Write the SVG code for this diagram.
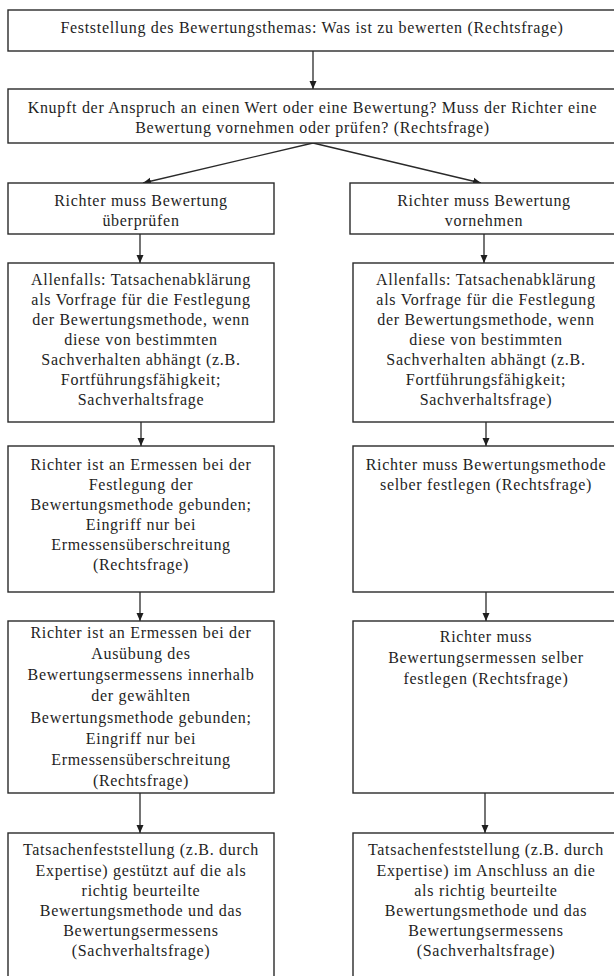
<svg xmlns="http://www.w3.org/2000/svg" width="614" height="976" viewBox="0 0 614 976">
<style>
.box{fill:#fff;stroke:#2a2a2a;stroke-width:1.4}
.t{font-family:'Liberation Serif','Times New Roman',serif;font-size:16px;fill:#1e1e1e;text-anchor:middle;letter-spacing:0.7px}
.c{stroke:#2a2a2a;stroke-width:1.3;fill:none;marker-end:url(#ah)}
</style>
<defs>
<marker id="ah" markerUnits="userSpaceOnUse" markerWidth="8" markerHeight="8" refX="8" refY="4" orient="auto">
<path d="M0,0.5 L8,4 L0,7.5 Z" fill="#1e1e1e"/>
</marker>
</defs>
<rect width="614" height="976" fill="#fff"/>
<g id="connectors">
<line class="c" x1="313" y1="51" x2="313" y2="89"/>
<line class="c" x1="313" y1="143" x2="143" y2="183"/>
<line class="c" x1="313" y1="143" x2="481" y2="183"/>
<line class="c" x1="140" y1="234" x2="140" y2="263"/>
<line class="c" x1="484" y1="234" x2="484" y2="263"/>
<line class="c" x1="141" y1="422" x2="141" y2="446"/>
<line class="c" x1="486" y1="422" x2="486" y2="446"/>
<line class="c" x1="140" y1="592" x2="140" y2="621"/>
<line class="c" x1="486" y1="592" x2="486" y2="621"/>
<line class="c" x1="140" y1="793" x2="140" y2="833"/>
<line class="c" x1="485" y1="793" x2="485" y2="833"/>
</g>
<g id="n1">
<rect class="box" x="8" y="10" width="610" height="41"/>
<text class="t" x="312" y="33">Feststellung des Bewertungsthemas: Was ist zu bewerten (Rechtsfrage)</text>
</g>
<g id="n2">
<rect class="box" x="8" y="89" width="610" height="54"/>
<text class="t" x="312.5" y="113">Knupft der Anspruch an einen Wert oder eine Bewertung? Muss der Richter eine</text>
<text class="t" x="312.5" y="133">Bewertung vornehmen oder prüfen? (Rechtsfrage)</text>
</g>
<g id="l1">
<rect class="box" x="8" y="183" width="266" height="51"/>
<text class="t" x="141" y="206">Richter muss Bewertung</text>
<text class="t" x="141" y="226">überprüfen</text>
</g>
<g id="r1">
<rect class="box" x="350" y="183" width="270" height="51"/>
<text class="t" x="484" y="206">Richter muss Bewertung</text>
<text class="t" x="484" y="226">vornehmen</text>
</g>
<g id="l2">
<rect class="box" x="8" y="263" width="266" height="159"/>
<text class="t" x="141" y="285">Allenfalls: Tatsachenabklärung</text>
<text class="t" x="141" y="305">als Vorfrage für die Festlegung</text>
<text class="t" x="141" y="325">der Bewertungsmethode, wenn</text>
<text class="t" x="141" y="345">diese von bestimmten</text>
<text class="t" x="141" y="365">Sachverhalten abhängt (z.B.</text>
<text class="t" x="141" y="385">Fortführungsfähigkeit;</text>
<text class="t" x="141" y="405">Sachverhaltsfrage</text>
</g>
<g id="r2">
<rect class="box" x="353" y="263" width="267" height="159"/>
<text class="t" x="486" y="285">Allenfalls: Tatsachenabklärung</text>
<text class="t" x="486" y="305">als Vorfrage für die Festlegung</text>
<text class="t" x="486" y="325">der Bewertungsmethode, wenn</text>
<text class="t" x="486" y="345">diese von bestimmten</text>
<text class="t" x="486" y="365">Sachverhalten abhängt (z.B.</text>
<text class="t" x="486" y="385">Fortführungsfähigkeit;</text>
<text class="t" x="486" y="405">Sachverhaltsfrage)</text>
</g>
<g id="l3">
<rect class="box" x="8" y="446" width="266" height="146"/>
<text class="t" x="141" y="470">Richter ist an Ermessen bei der</text>
<text class="t" x="141" y="490">Festlegung der</text>
<text class="t" x="141" y="510">Bewertungsmethode gebunden;</text>
<text class="t" x="141" y="530">Eingriff nur bei</text>
<text class="t" x="141" y="550">Ermessensüberschreitung</text>
<text class="t" x="141" y="570">(Rechtsfrage)</text>
</g>
<g id="r3">
<rect class="box" x="353" y="446" width="267" height="146"/>
<text class="t" x="486" y="470">Richter muss Bewertungsmethode</text>
<text class="t" x="486" y="490">selber festlegen (Rechtsfrage)</text>
</g>
<g id="l4">
<rect class="box" x="8" y="621" width="266" height="172"/>
<text class="t" x="141" y="638">Richter ist an Ermessen bei der</text>
<text class="t" x="141" y="659">Ausübung des</text>
<text class="t" x="141" y="680">Bewertungsermessens innerhalb</text>
<text class="t" x="141" y="701">der gewählten</text>
<text class="t" x="141" y="723">Bewertungsmethode gebunden;</text>
<text class="t" x="141" y="744">Eingriff nur bei</text>
<text class="t" x="141" y="765">Ermessensüberschreitung</text>
<text class="t" x="141" y="786">(Rechtsfrage)</text>
</g>
<g id="r4">
<rect class="box" x="353" y="621" width="267" height="172"/>
<text class="t" x="486" y="642">Richter muss</text>
<text class="t" x="486" y="663">Bewertungsermessen selber</text>
<text class="t" x="486" y="684">festlegen (Rechtsfrage)</text>
</g>
<g id="l5">
<rect class="box" x="8" y="833" width="266" height="150"/>
<text class="t" x="141" y="855">Tatsachenfeststellung (z.B. durch</text>
<text class="t" x="141" y="876">Expertise) gestützt auf die als</text>
<text class="t" x="141" y="896">richtig beurteilte</text>
<text class="t" x="141" y="916">Bewertungsmethode und das</text>
<text class="t" x="141" y="936">Bewertungsermessens</text>
<text class="t" x="141" y="956">(Sachverhaltsfrage)</text>
</g>
<g id="r5">
<rect class="box" x="353" y="833" width="267" height="150"/>
<text class="t" x="486" y="855">Tatsachenfeststellung (z.B. durch</text>
<text class="t" x="486" y="876">Expertise) im Anschluss an die</text>
<text class="t" x="486" y="896">als richtig beurteilte</text>
<text class="t" x="486" y="916">Bewertungsmethode und das</text>
<text class="t" x="486" y="936">Bewertungsermessens</text>
<text class="t" x="486" y="956">(Sachverhaltsfrage)</text>
</g>
</svg>
